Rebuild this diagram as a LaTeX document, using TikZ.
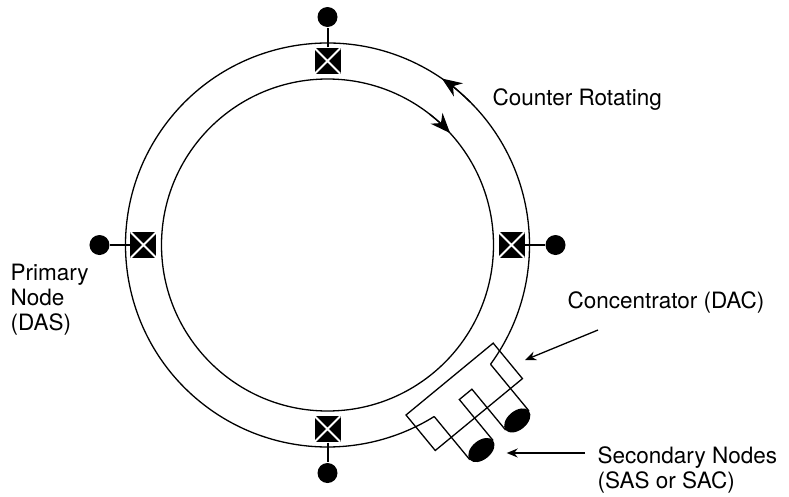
\documentclass[tikz,border=0pt]{standalone}
\usepackage{fontspec}
\setmainfont{TeX Gyre Heros}
\usetikzlibrary{positioning}
\usetikzlibrary{arrows.meta}
\tikzset{
    station/.style = {rectangle, fill = black, minimum size = 26pt, inner sep = 0,
        path picture = {\draw[white, line width = 2pt]
            (path picture bounding box.south west) -- (path picture bounding box.north east)
            (path picture bounding box.north west) -- (path picture bounding box.south east);}},
    tap/.style = {circle, fill = black, minimum size = 20pt, inner sep = 0},
}

\begin{document}
\begin{tikzpicture}
        [
        x = 1pt, y = 1pt, node distance = 44pt, line width = 1.3pt,
        txt/.style = {align = left, inner sep = 0, font = {\fontsize{22.5}{25}\selectfont}},
        big/.style = {-{Stealth[length = 20pt, width = 16pt]}},
        small/.style = {-{Stealth[length = 11pt, width = 9pt]}}]
        \useasboundingbox (-327.5, -251) rectangle (461.5, 245);
        % the two rings
        \draw (0, 0) circle (166);
        \draw (-36.2:202) arc [start angle = -36.2, end angle = 301.9, radius = 202];
        \draw [big] (45:202) arc [start angle = 45, end angle = 55.5, radius = 202];
        \draw [big] (52:166) arc [start angle = 52, end angle = 42.4, radius = 166];
        % primary nodes
        \node (north) [station] at (90:184) {};
        \node (west) [station] at (180:184) {};
        \node (east) [station] at (0:184) {};
        \node (south) [station] at (270:184) {};
        \node (northtap) [tap, above of = north] {};
        \node (westtap) [tap, left of = west] {};
        \node (easttap) [tap, right of = east] {};
        \node (southtap) [tap, below of = south] {};
        \draw [line width = 2pt] (north) -- (northtap);
        \draw [line width = 2pt] (west) -- (westtap);
        \draw [line width = 2pt] (east) -- (easttap);
        \draw [line width = 2pt] (south) -- (southtap);
        % concentrator with two secondary nodes
        \begin{scope}[shift = {(78.5, -170)}, rotate = 39.5, yscale = -1]
            \draw (0, 0) rectangle (113, 46);
            \draw (20.8, 19.1) -- (20.8, 75) (51, 75) -- (51, 22) -- (67.3, 22) -- (67.3, 75)
                (97.5, 75) -- (97.5, 14.6);
            \fill (35.9, 75) ellipse [x radius = 15.1, y radius = 9.5];
            \fill (82.4, 75) ellipse [x radius = 15.1, y radius = 9.5];
        \end{scope}
        % labels
        \node (ring) [txt, anchor = base west] at (164.5, 140) {Counter Rotating};
        \node (das) [txt, anchor = west] at (-317.5, -54.3) {Primary\\Node\\(DAS)};
        \node (dac) [txt, anchor = base west] at (239.5, -63) {Concentrator (DAC)};
        \node (sas) [txt, anchor = west] at (269.5, -224.5) {Secondary Nodes\\(SAS or SAC)};
        \coordinate (dacfrom) at (270.5, -85);
        \coordinate (dacto) at (197.5, -115);
        \coordinate (sasfrom) at (257.5, -208);
        \coordinate (sasto) at (179.2, -208);
        \draw [small] (dacfrom) -- (dacto);
        \draw [small] (sasfrom) -- (sasto);
    \end{tikzpicture}
\end{document}
